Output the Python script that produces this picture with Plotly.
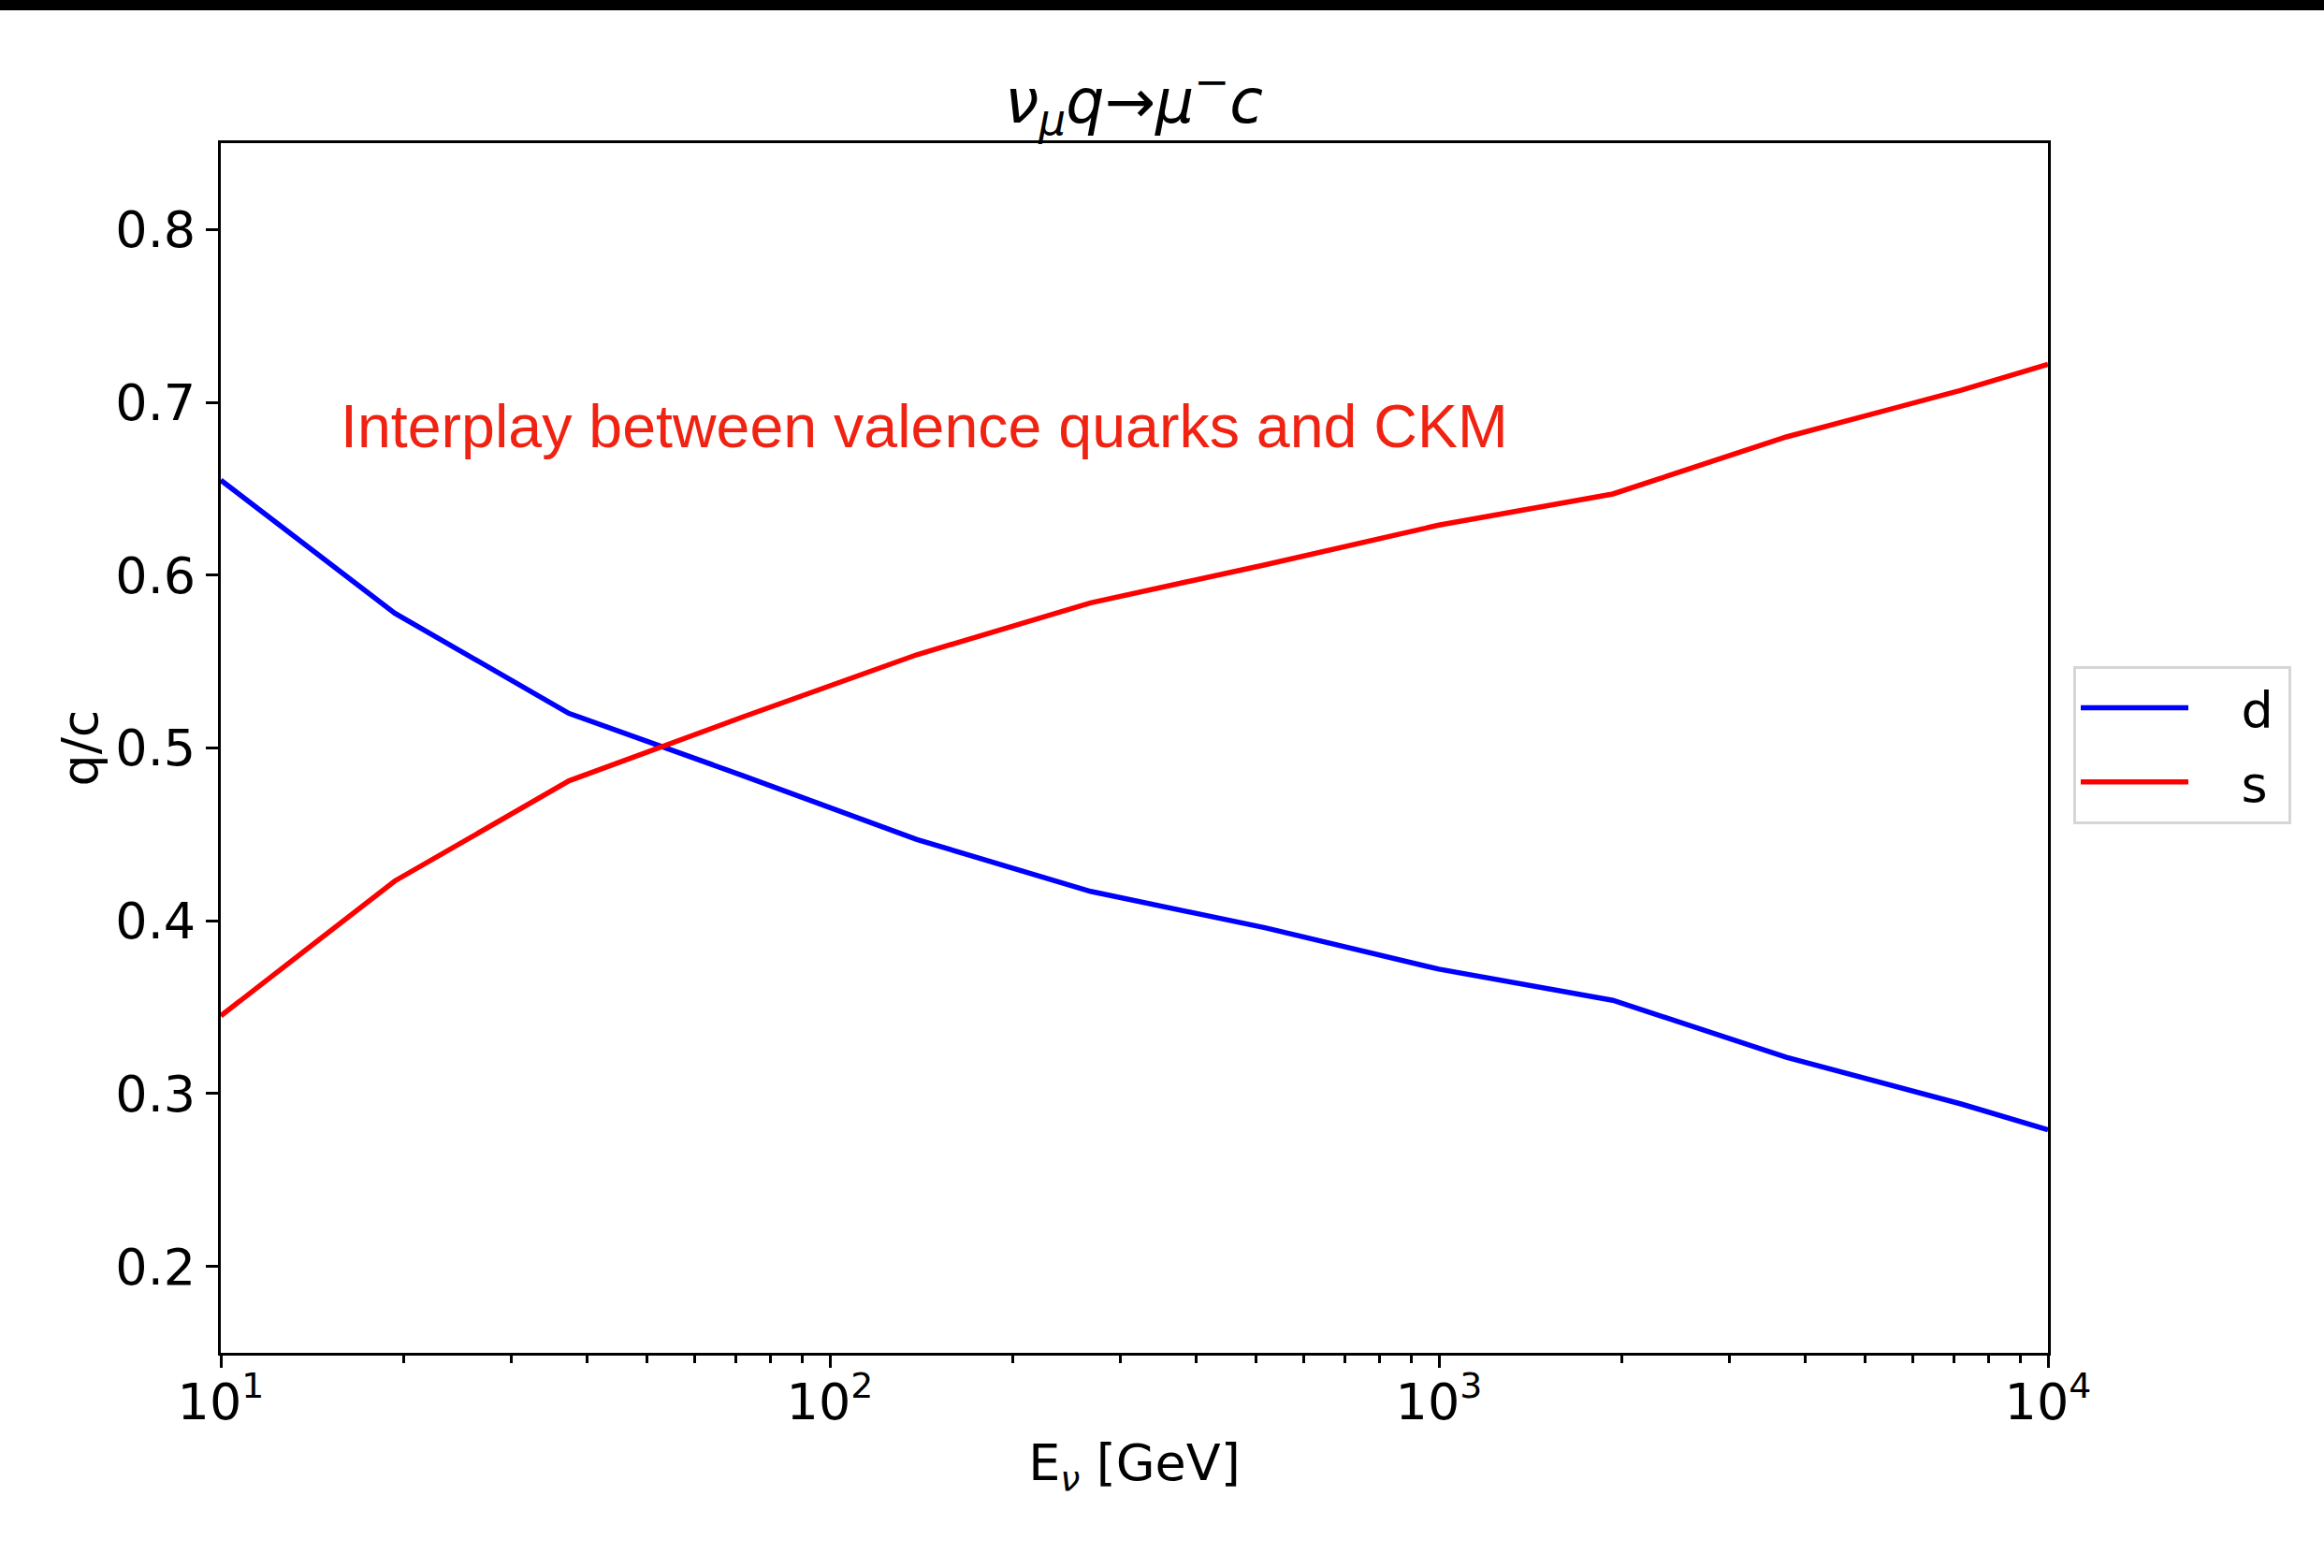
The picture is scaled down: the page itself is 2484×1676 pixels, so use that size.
import plotly.graph_objects as go

# ---- data ----
energy_gev = [10, 19.3, 37.3, 72, 139, 268, 518, 1000, 1930, 3720, 7200, 10000]
frac_d = [0.655, 0.578, 0.520, 0.484, 0.447, 0.417, 0.396, 0.372, 0.354, 0.321, 0.294, 0.279]
frac_s = [0.345, 0.423, 0.481, 0.518, 0.554, 0.584, 0.606, 0.629, 0.647, 0.680, 0.707, 0.722]
series_names = ["d", "s"]
series_colors = ["#0000ff", "#ff0000"]
x_tick_vals = [10, 100, 1000, 10000]
x_tick_text = ["10<sup>1</sup>", "10<sup>2</sup>", "10<sup>3</sup>", "10<sup>4</sup>"]
y_tick_vals = [0.2, 0.3, 0.4, 0.5, 0.6, 0.7, 0.8]
title_text = "<i>ν<sub>μ</sub>q</i>→<i>μ<sup>−</sup>c</i>"
x_title = "E<sub><i>ν</i></sub> [GeV]"
y_title = "q/c"
note_text = "Interplay between valence quarks and CKM"

W, H = 2484, 1676
L, R, T, B = 236, 295, 153, 230
PW, PH = W - L - R, H - T - B
FONT = "DejaVu Sans"
FS = 54

minor_vals = [m * 10 ** e for e in range(1, 4) for m in range(2, 10)]

fig = go.Figure()
for name, color, vals in zip(series_names, series_colors, [frac_d, frac_s]):
    fig.add_trace(go.Scatter(x=energy_gev, y=vals, mode="lines",
                             name="\u00a0\u00a0\u00a0" + name + "\u2009",
                             legendgroup=name,
                             line=dict(color=color, width=5.5)))

axis_common = dict(showgrid=False, zeroline=False, showline=True, linecolor="black",
                   linewidth=3, mirror=True, ticks="outside", ticklen=13, tickwidth=3,
                   tickcolor="black", tickfont=dict(family=FONT, size=FS, color="black"))

fig.update_xaxes(type="log", range=[1, 4], tickvals=x_tick_vals, ticktext=x_tick_text,
                 ticklabelstandoff=-10,
                 minor=dict(tickvals=minor_vals, ticks="outside", ticklen=8, tickwidth=2.5,
                            tickcolor="black"),
                 title=dict(text=x_title, font=dict(family=FONT, size=FS, color="black"),
                            standoff=16),
                 **axis_common)
fig.update_yaxes(range=[0.15, 0.85], tickvals=y_tick_vals, tickformat=".1f",
                 title=dict(text=y_title, font=dict(family=FONT, size=FS, color="black"),
                            standoff=2),
                 **axis_common)

fig.add_annotation(text=note_text, xref="paper", yref="paper",
                   x=(362 - L) / PW, y=1 - (456 - T) / PH, xanchor="left", yanchor="middle",
                   showarrow=False,
                   font=dict(family="Liberation Sans", size=64.5, color="#f02312"))

# black strip at the very top of the image
fig.add_shape(type="rect", xref="paper", yref="paper",
              x0=-0.2, x1=1.2, y0=1 + (T - 11) / PH, y1=1 + (T + 20) / PH,
              fillcolor="black", line=dict(width=0), layer="above")

fig.update_layout(
    width=W, height=H,
    margin=dict(l=L, r=R, t=T, b=B, autoexpand=False),
    paper_bgcolor="white", plot_bgcolor="white",
    title=dict(text=title_text, x=(1212) / W, xanchor="center",
               y=1 - 108 / H, yanchor="middle", yref="container",
               font=dict(family=FONT, size=65, color="black")),
    legend=dict(x=(2216 - L) / PW, y=1 - (712 - T) / PH, xanchor="left", yanchor="top",
                bgcolor="white", bordercolor="#d6d6d6", borderwidth=3,
                font=dict(family=FONT, size=FS, color="black"), itemwidth=115,
                tracegroupgap=6),
    showlegend=True,
)

fig.write_html("out.html")
